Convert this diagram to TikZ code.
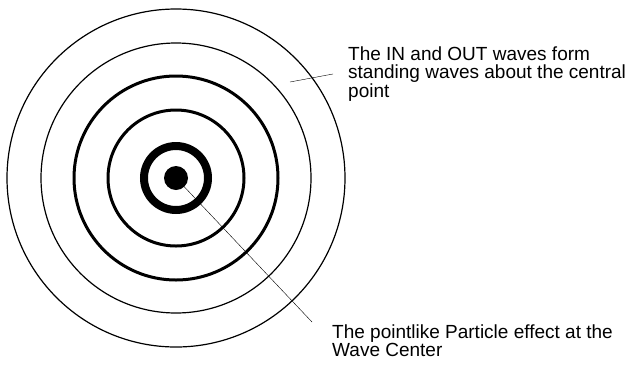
\documentclass[tikz,border=0pt]{standalone}
\usepackage{fontspec}
\setmainfont{Liberation Sans}
\begin{document}
\begin{tikzpicture}[x=1pt,y=-1pt,
  thinring/.style={line width=1.2pt},
  midring/.style={line width=3pt},
  fatring/.style={line width=8pt},
  lbl/.style={anchor=base west,inner sep=0pt,align=left,font=\fontsize{19}{17.5}\selectfont}]
\useasboundingbox (0,0) rectangle (637,365);
\coordinate (c) at (176,178);
\draw[thinring] (c) circle (169);
\draw[thinring] (c) circle (135);
\draw[midring] (c) circle (102);
\draw[midring] (c) circle (68);
\draw[fatring] (c) circle (32);
\node[circle,fill=black,minimum size=24pt,inner sep=0pt] (dot) at (c) {};
% base anchor sits on the last line
\node[lbl] (waves) at (348,97) {The IN and OUT waves form\\standing waves about the central\\point};
\node[lbl] (part) at (332,356) {The pointlike Particle effect at the\\Wave Center};
\coordinate (arm) at (290,82);
\coordinate (tail) at (312,322);
\draw (arm) -- ([xshift=-15pt]waves.west);
\draw (dot) -- (tail);
\end{tikzpicture}
\end{document}
